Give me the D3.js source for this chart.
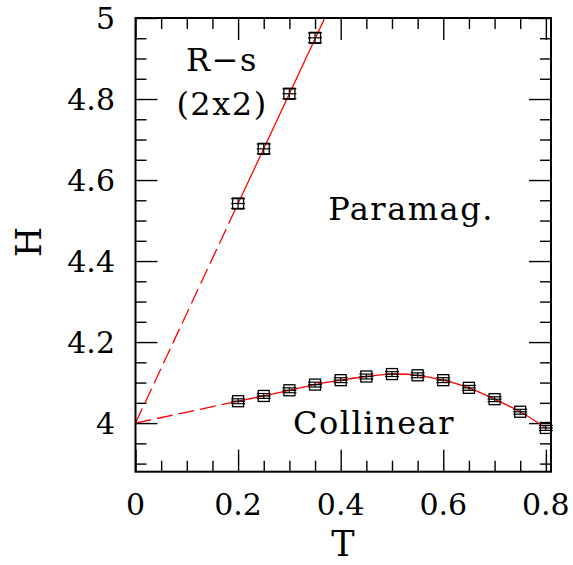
<!DOCTYPE html>
<html>
<head>
  <meta charset="utf-8">
  <title>Phase diagram H vs T</title>
  <script src="https://d3js.org/d3.v7.min.js"></script>
  <style>
    body { margin: 0; background: #fff; }
    text { font-family: "DejaVu Serif", "Liberation Serif", serif; fill: #000; }
  </style>
</head>
<body>
  <svg width="573" height="565"></svg>
  <script>
    // data
    var rsT = [0.2, 0.25, 0.3, 0.35];
    var rsH = [4.542, 4.677, 4.813, 4.951];
    var rsErr = [0.012, 0.012, 0.012, 0.012];

    var colT = [0.2, 0.25, 0.3, 0.35, 0.4, 0.45, 0.5, 0.55, 0.6, 0.65, 0.7, 0.75, 0.8];
    var colH = [4.054, 4.067, 4.081, 4.095, 4.106, 4.115, 4.121, 4.118, 4.106, 4.087, 4.059, 4.028, 3.988];
    var colErr = [0.006, 0.006, 0.006, 0.006, 0.006, 0.006, 0.006, 0.006, 0.006, 0.006, 0.006, 0.006, 0.006];

    // fitted lines (dashed extrapolation to T=0, solid through data)
    var rsDashT = [0, 0.2], rsDashH = [4.0, 4.542];
    var rsSolidT = [0.2, 0.38], rsSolidH = [4.542, 5.03];
    var colDashT = [0, 0.2], colDashH = [4.0, 4.054];

    var xMajor = [0, 0.2, 0.4, 0.6, 0.8];
    var xMinor = [0.05, 0.1, 0.15, 0.25, 0.3, 0.35, 0.45, 0.5, 0.55, 0.65, 0.7, 0.75];
    var yMajor = [4, 4.2, 4.4, 4.6, 4.8, 5];
    var yMinor = [3.9, 3.95, 4.05, 4.1, 4.15, 4.25, 4.3, 4.35, 4.45, 4.5, 4.55, 4.65, 4.7, 4.75, 4.85, 4.9, 4.95];

    (function () {
      var svg = d3.select("svg");
      var pL = 135.5, pR = 551, pT = 18, pB = 471.7;

      var x = d3.scaleLinear().domain([0, 0.81]).range([pL, pR]);
      var y = d3.scaleLinear().domain([3.88, 5]).range([pB, pT]);

      svg.append("clipPath").attr("id", "plotclip")
        .append("rect")
        .attr("x", pL).attr("y", pT)
        .attr("width", pR - pL).attr("height", pB - pT);

      // ticks on all four sides, pointing inward
      function ticks(axis, vals, size, tx, ty) {
        var g = svg.append("g")
          .attr("transform", "translate(" + tx + "," + ty + ")")
          .call(axis.tickValues(vals).tickSize(size).tickFormat(""));
        g.select(".domain").remove();
        g.selectAll(".tick line").attr("stroke", "#000").attr("stroke-width", 1.4);
        return g;
      }
      ticks(d3.axisBottom(x), xMajor, -22, 0, pB);
      ticks(d3.axisBottom(x), xMinor, -11, 0, pB);
      ticks(d3.axisTop(x), xMajor, -22, 0, pT);
      ticks(d3.axisTop(x), xMinor, -11, 0, pT);
      ticks(d3.axisLeft(y), yMajor, -22, pL, 0);
      ticks(d3.axisLeft(y), yMinor, -11, pL, 0);
      ticks(d3.axisRight(y), yMajor, -22, pR, 0);
      ticks(d3.axisRight(y), yMinor, -11, pR, 0);

      // tick labels
      svg.append("g").selectAll("text")
        .data(xMajor).enter().append("text")
        .attr("x", function (d) { return x(d); })
        .attr("y", 515)
        .attr("text-anchor", "middle")
        .style("font-size", "30px")
        .text(function (d) { return d === 0 ? "0" : d3.format(".1f")(d); });

      svg.append("g").selectAll("text")
        .data(yMajor).enter().append("text")
        .attr("x", 115)
        .attr("y", function (d) { return y(d) + 11; })
        .attr("text-anchor", "end")
        .style("font-size", "30px")
        .text(function (d) { return d % 1 === 0 ? d3.format("d")(d) : d3.format(".1f")(d); });

      // axis titles
      svg.append("text")
        .attr("x", 343).attr("y", 556)
        .attr("text-anchor", "middle")
        .style("font-size", "35px")
        .text("T");
      svg.append("text")
        .attr("transform", "translate(40.5,242) rotate(-90)")
        .attr("text-anchor", "middle")
        .style("font-size", "35px")
        .text("H");

      var plot = svg.append("g").attr("clip-path", "url(#plotclip)");

      var line = d3.line()
        .x(function (d) { return x(d[0]); })
        .y(function (d) { return y(d[1]); });
      var curve = d3.line()
        .x(function (d) { return x(d[0]); })
        .y(function (d) { return y(d[1]); })
        .curve(d3.curveNatural);

      function pairs(a, b) { return a.map(function (v, i) { return [v, b[i]]; }); }

      plot.append("path").datum(pairs(rsDashT, rsDashH))
        .attr("d", line).attr("fill", "none").attr("stroke", "#ff0000")
        .attr("stroke-width", 1.3).attr("stroke-dasharray", "16,6");
      plot.append("path").datum(pairs(rsSolidT, rsSolidH))
        .attr("d", line).attr("fill", "none").attr("stroke", "#ff0000")
        .attr("stroke-width", 1.3);
      plot.append("path").datum(pairs(colDashT, colDashH))
        .attr("d", line).attr("fill", "none").attr("stroke", "#ff0000")
        .attr("stroke-width", 1.3).attr("stroke-dasharray", "16,6");
      plot.append("path").datum(pairs(colT, colH))
        .attr("d", curve).attr("fill", "none").attr("stroke", "#ff0000")
        .attr("stroke-width", 1.3);

      // square markers with error bars
      function markers(ts, hs, errs) {
        var g = svg.append("g").selectAll("g")
          .data(ts.map(function (t, i) { return { t: t, h: hs[i], e: errs[i] }; }))
          .enter().append("g")
          .attr("transform", function (d) { return "translate(" + x(d.t) + "," + y(d.h) + ")"; });
        g.append("rect")
          .attr("x", -5.5).attr("y", -5.5).attr("width", 11).attr("height", 11)
          .attr("fill", "none").attr("stroke", "#000").attr("stroke-width", 1.3);
        g.append("line")
          .attr("x1", 0).attr("x2", 0)
          .attr("y1", function (d) { return y(d.h + d.e) - y(d.h); })
          .attr("y2", function (d) { return y(d.h - d.e) - y(d.h); })
          .attr("stroke", "#000").attr("stroke-width", 1.2);
        [1, 0, -1].forEach(function (s) {
          g.append("line")
            .attr("x1", -7).attr("x2", 7)
            .attr("y1", function (d) { return y(d.h + s * d.e) - y(d.h); })
            .attr("y2", function (d) { return y(d.h + s * d.e) - y(d.h); })
            .attr("stroke", "#000").attr("stroke-width", 1.2);
        });
      }
      markers(rsT, rsH, rsErr);
      markers(colT, colH, colErr);

      // frame
      svg.append("rect")
        .attr("x", pL).attr("y", pT)
        .attr("width", pR - pL).attr("height", pB - pT)
        .attr("fill", "none").attr("stroke", "#000").attr("stroke-width", 2);

      // region labels
      function label(txt, cx, by) {
        svg.append("text").attr("x", cx).attr("y", by)
          .attr("text-anchor", "middle")
          .style("font-size", "32px")
          .style("letter-spacing", "1.5px")
          .text(txt);
      }
      label("R\u2212s", 222, 71);
      label("(2x2)", 222, 115);
      label("Paramag.", 411, 220);
      label("Collinear", 374, 434);
    })();
  </script>
</body>
</html>
